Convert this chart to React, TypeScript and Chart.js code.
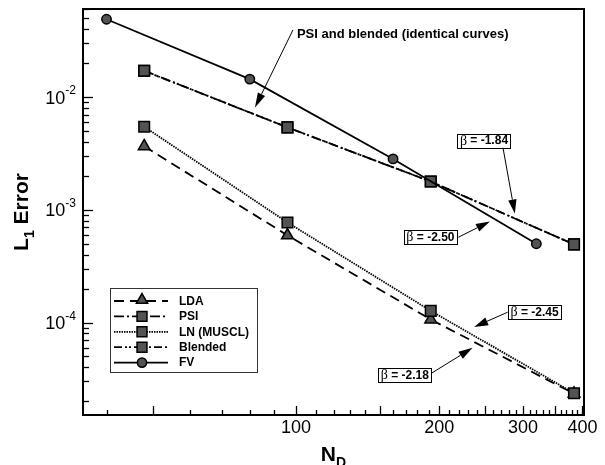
import React, { useEffect, useRef } from 'react';
import { Chart, registerables } from 'chart.js';

Chart.register(...registerables);

const SANS = '"Liberation Sans", Arial, Helvetica, sans-serif';
const SERIF = '"Liberation Serif", "Times New Roman", serif';

// ---- data ----
const ndFine = [48, 96, 192, 384];
const ndFV = [40, 80, 160, 320];
const errLDA = [0.00366, 0.000593, 0.0001064, 0.0000234];
const errPSI = [0.0171, 0.00538, 0.00178, 0.000493];
const errLN = [0.00546, 0.000772, 0.000127, 0.0000236];
const errBlended = [0.0171, 0.00538, 0.00178, 0.000493];
const errFV = [0.049, 0.01443, 0.002827, 0.0005];

const seriesNames = ['LDA', 'PSI', 'LN (MUSCL)', 'Blended', 'FV'];

// ---- axes ----
const xRange = [35.7, 403];
const yRange = [1.513e-5, 0.0604];
const xLabelTicks = [100, 200, 300, 400];
const xMajorTicks = [50, 100, 150, 200, 250, 300, 350, 400];
const yLabelExponents = [-2, -3, -4];
const xTitle = 'N';
const xTitleSub = 'D';
const yTitle = 'L';
const yTitleSub = '1';
const yTitleRest = ' Error';

// ---- annotations (data coordinates) ----
const noteText = 'PSI and blended (identical curves)';
const noteAt = [100.5, 0.0356];
const noteFrom = [98.6, 0.0394];
const noteTo = [82.0, 0.00804];

const slopeValues = ['-1.84', '-2.50', '-2.45', '-2.18'];
const slopeBoxAt = [[248.4, 0.004105], [191.7, 0.000572], [317.3, 0.0001242], [169.4, 3.417e-5]];
const slopeFrom = [[272.3, 0.003558], [219.3, 0.00057], [278.5, 0.0001234], [192.8, 3.558e-5]];
const slopeTo = [[288.4, 0.000928], [255.6, 0.000788], [236.9, 9.14e-5], [235.0, 5.96e-5]];

const MARKER_FILL = '#535353';

function drawMarker(ctx: CanvasRenderingContext2D, style: string, x: number, y: number, r: number) {
  ctx.beginPath();
  if (style === 'rect') {
    const s = Math.SQRT1_2 * r;
    ctx.rect(x - s, y - s, 2 * s, 2 * s);
  } else if (style === 'triangle') {
    ctx.moveTo(x, y - r);
    ctx.lineTo(x + 0.866 * r, y + 0.5 * r);
    ctx.lineTo(x - 0.866 * r, y + 0.5 * r);
    ctx.closePath();
  } else {
    ctx.arc(x, y, r, 0, Math.PI * 2);
  }
  ctx.fillStyle = MARKER_FILL;
  ctx.fill();
  ctx.lineWidth = 1.5;
  ctx.strokeStyle = '#000';
  ctx.setLineDash([]);
  ctx.stroke();
}

function drawArrow(ctx: CanvasRenderingContext2D, x0: number, y0: number, x1: number, y1: number, L = 12, W = 3.5) {
  const ang = Math.atan2(y1 - y0, x1 - x0);
  const bx = x1 - L * Math.cos(ang);
  const by = y1 - L * Math.sin(ang);
  ctx.beginPath();
  ctx.moveTo(x0, y0);
  ctx.lineTo(bx, by);
  ctx.stroke();
  ctx.beginPath();
  ctx.moveTo(x1, y1);
  ctx.lineTo(bx + W * Math.sin(ang), by - W * Math.cos(ang));
  ctx.lineTo(bx - W * Math.sin(ang), by + W * Math.cos(ang));
  ctx.closePath();
  ctx.fill();
}

const decorPlugin = {
  id: 'decor',
  afterDatasetsDraw(chart: any) {
    const ctx: CanvasRenderingContext2D = chart.ctx;
    const xs = chart.scales.x;
    const ys = chart.scales.y;
    const a = chart.chartArea;
    ctx.save();
    ctx.setLineDash([]);
    ctx.strokeStyle = '#000';
    ctx.fillStyle = '#000';

    // frame
    ctx.lineWidth = 2;
    ctx.strokeRect(a.left, a.top, a.right - a.left, a.bottom - a.top);

    // x ticks (inward)
    ctx.lineWidth = 1.3;
    for (let v = 40; v <= 400; v += 10) {
      if (v < xRange[0] || v > xRange[1]) continue;
      const px = Math.round(xs.getPixelForValue(v)) + 0.5;
      const len = xMajorTicks.includes(v) ? 9 : 5;
      ctx.beginPath();
      ctx.moveTo(px, a.bottom);
      ctx.lineTo(px, a.bottom - len);
      ctx.stroke();
    }
    // y ticks (inward)
    for (let k = -5; k <= -1; k++) {
      for (let m = 1; m <= 9; m++) {
        const v = m * Math.pow(10, k);
        if (v < yRange[0] || v > yRange[1]) continue;
        const py = Math.round(ys.getPixelForValue(v)) + 0.5;
        const len = m === 1 ? 10 : 6;
        ctx.beginPath();
        ctx.moveTo(a.left, py);
        ctx.lineTo(a.left + len, py);
        ctx.stroke();
      }
    }

    // x tick labels
    ctx.font = `18px ${SANS}`;
    ctx.textAlign = 'center';
    ctx.textBaseline = 'alphabetic';
    xLabelTicks.forEach((v) => {
      ctx.fillText(String(v), xs.getPixelForValue(v), a.bottom + 18);
    });
    // y tick labels 10^k
    yLabelExponents.forEach((k) => {
      const py = ys.getPixelForValue(Math.pow(10, k));
      const sup = String(k);
      ctx.font = `12px ${SANS}`;
      const wSup = ctx.measureText(sup).width;
      ctx.textAlign = 'right';
      ctx.fillText(sup, a.left - 7, py - 3);
      ctx.font = `18px ${SANS}`;
      ctx.fillText('10', a.left - 7 - wSup, py + 6.5);
    });

    // axis titles
    const cx = (a.left + a.right) / 2;
    ctx.font = `bold 21px ${SANS}`;
    const wN = ctx.measureText(xTitle).width;
    ctx.font = `bold 14px ${SANS}`;
    const wD = ctx.measureText(xTitleSub).width;
    const xStart = cx - (wN + wD) / 2;
    ctx.textAlign = 'left';
    ctx.font = `bold 21px ${SANS}`;
    ctx.fillText(xTitle, xStart, a.bottom + 46);
    ctx.font = `bold 14px ${SANS}`;
    ctx.fillText(xTitleSub, xStart + wN, a.bottom + 52);

    const cy = (a.top + a.bottom) / 2;
    ctx.save();
    ctx.translate(28, cy);
    ctx.rotate(-Math.PI / 2);
    ctx.font = `bold 21px ${SANS}`;
    const wL = ctx.measureText(yTitle).width;
    const wR = ctx.measureText(yTitleRest).width;
    ctx.font = `bold 14px ${SANS}`;
    const w1 = ctx.measureText(yTitleSub).width;
    const s0 = -(wL + w1 + wR) / 2;
    ctx.textAlign = 'left';
    ctx.font = `bold 21px ${SANS}`;
    ctx.fillText(yTitle, s0, 0);
    ctx.font = `bold 14px ${SANS}`;
    ctx.fillText(yTitleSub, s0 + wL, 6);
    ctx.font = `bold 21px ${SANS}`;
    ctx.fillText(yTitleRest, s0 + wL + w1, 0);
    ctx.restore();

    // PSI note
    ctx.lineWidth = 1;
    const px = (d: number[]) => [xs.getPixelForValue(d[0]), ys.getPixelForValue(d[1])];
    const [f0, f1] = px(noteFrom);
    const [t0, t1] = px(noteTo);
    drawArrow(ctx, f0, f1, t0, t1, 15, 4);
    const [n0, n1] = px(noteAt);
    ctx.font = `bold 13px ${SANS}`;
    ctx.textAlign = 'left';
    ctx.textBaseline = 'middle';
    ctx.fillText(noteText, n0, n1);

    // slope labels
    slopeValues.forEach((val, i) => {
      const [fx, fy] = px(slopeFrom[i]);
      const [tx, ty] = px(slopeTo[i]);
      ctx.lineWidth = 1;
      ctx.strokeStyle = '#000';
      ctx.fillStyle = '#000';
      drawArrow(ctx, fx, fy, tx, ty, 14, 4.2);
      const [bx, by] = px(slopeBoxAt[i]);
      ctx.font = `14px ${SERIF}`;
      const wb = ctx.measureText('β').width;
      const rest = ' = ' + val;
      ctx.font = `bold 12px ${SANS}`;
      const wr = ctx.measureText(rest).width;
      const bw = wb + wr + 5;
      const bh = 13.5;
      ctx.fillStyle = '#fff';
      ctx.fillRect(bx - bw / 2, by - bh / 2, bw, bh);
      ctx.strokeRect(Math.round(bx - bw / 2) + 0.5, Math.round(by - bh / 2) + 0.5, Math.round(bw), Math.round(bh));
      ctx.fillStyle = '#000';
      ctx.textAlign = 'left';
      ctx.textBaseline = 'middle';
      ctx.font = `14px ${SERIF}`;
      ctx.fillText('β', bx - bw / 2 + 2.5, by + 0.5);
      ctx.font = `bold 12px ${SANS}`;
      ctx.fillText(rest, bx - bw / 2 + 2.5 + wb, by + 0.5);
    });

    // legend
    const lx = a.left + 27;
    const ly = a.top + 279;
    const lw = 147;
    const lh = 84;
    ctx.fillStyle = '#fff';
    ctx.fillRect(lx, ly, lw, lh);
    ctx.lineWidth = 1;
    ctx.strokeStyle = '#333';
    ctx.strokeRect(lx + 0.5, ly + 0.5, lw, lh);
    const metas = chart.data.datasets;
    seriesNames.forEach((name, i) => {
      const ds = metas[i];
      const ry = ly + 13 + i * 15.4;
      ctx.strokeStyle = '#000';
      ctx.lineWidth = ds.borderWidth;
      ctx.setLineDash(ds.borderDash || []);
      ctx.beginPath();
      ctx.moveTo(lx + 4, ry);
      ctx.lineTo(lx + 58, ry);
      ctx.stroke();
      ctx.setLineDash([]);
      const r = ds.pointStyle === 'rect' ? 7 : ds.pointStyle === 'triangle' ? 6.5 : 4.6;
      drawMarker(ctx, ds.pointStyle, lx + 32, ds.pointStyle === 'triangle' ? ry - 1 : ry, r);
      ctx.fillStyle = '#000';
      ctx.font = `bold 12px ${SANS}`;
      ctx.textAlign = 'left';
      ctx.textBaseline = 'middle';
      ctx.fillText(name, lx + 69, ry + 0.5);
    });

    ctx.restore();
  },
};

function series(label: string, xs: number[], ys: number[], dash: number[], style: string, radius: number, order: number) {
  return {
    label,
    data: xs.map((x, i) => ({ x, y: ys[i] })),
    borderColor: '#000',
    borderWidth: 1.8,
    borderDash: dash,
    pointStyle: style,
    pointRadius: radius,
    pointBackgroundColor: MARKER_FILL,
    pointBorderColor: '#000',
    pointBorderWidth: 1.5,
    fill: false,
    tension: 0,
    order,
  };
}

export default function App() {
  const ref = useRef<HTMLCanvasElement | null>(null);
  useEffect(() => {
    if (!ref.current) return;
    const chart = new Chart(ref.current, {
      type: 'line',
      data: {
        datasets: [
          series(seriesNames[0], ndFine, errLDA, [10, 6], 'triangle', 6.8, 5),
          series(seriesNames[1], ndFine, errPSI, [10, 3, 2, 3], 'rect', 7.5, 4),
          series(seriesNames[2], ndFine, errLN, [1.5, 1], 'rect', 7.5, 2),
          series(seriesNames[3], ndFine, errBlended, [8, 3, 2, 2, 2, 3], 'rect', 7.5, 3),
          series(seriesNames[4], ndFV, errFV, [], 'circle', 4.7, 1),
        ] as any,
      },
      options: {
        responsive: false,
        animation: false,
        events: [],
        layout: { padding: { left: 83, right: 21, top: 8, bottom: 50 } },
        plugins: { legend: { display: false }, tooltip: { enabled: false } },
        scales: {
          x: { type: 'logarithmic', min: xRange[0], max: xRange[1], display: false },
          y: { type: 'logarithmic', min: yRange[0], max: yRange[1], display: false },
        },
      },
      plugins: [decorPlugin],
    });
    return () => chart.destroy();
  }, []);
  return (
    <div style={{ position: 'fixed', left: 0, top: 0, width: 605, height: 465, background: '#fff' }}>
      <canvas ref={ref} width={605} height={465} style={{ display: 'block', width: 605, height: 465 }} />
    </div>
  );
}
